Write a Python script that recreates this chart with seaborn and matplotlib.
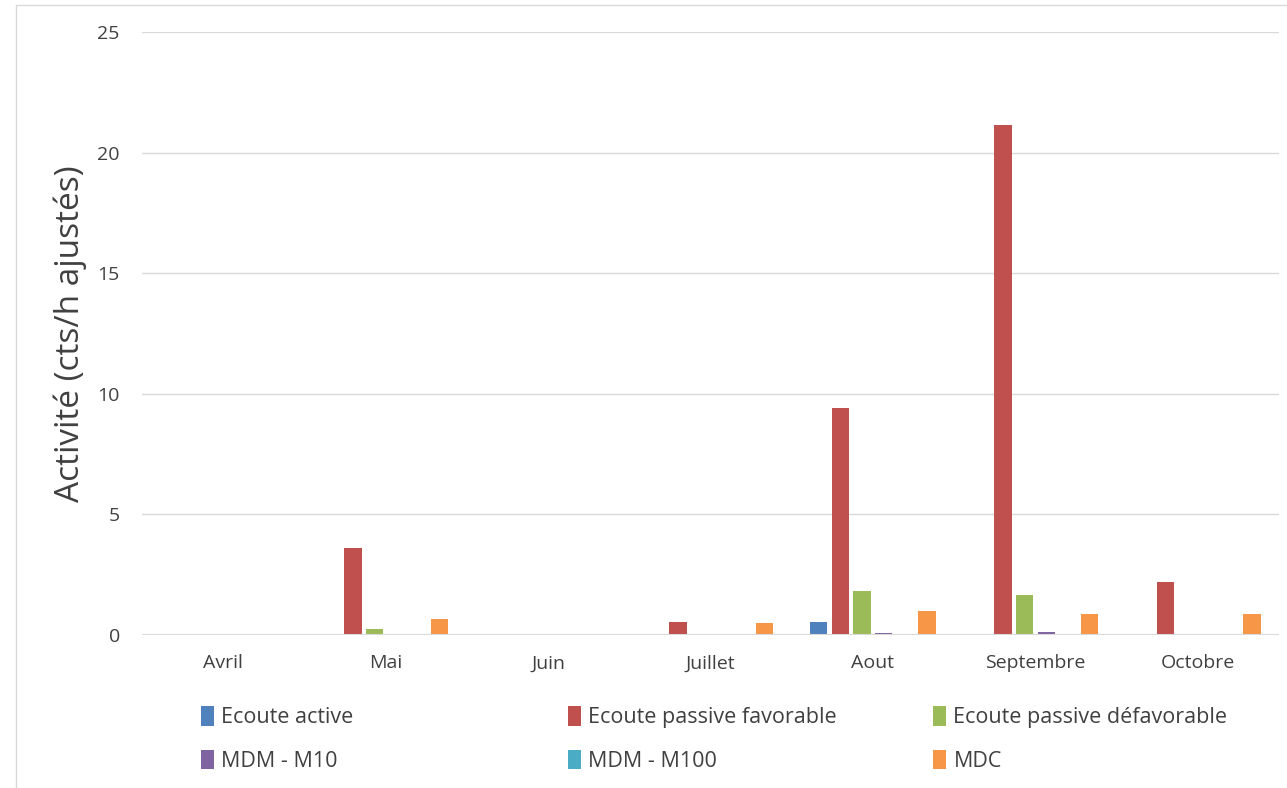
import matplotlib
matplotlib.use("Agg")
import matplotlib.pyplot as plt
from matplotlib.patches import Rectangle, Patch
import seaborn as sns
import pandas as pd

months = ["Avril", "Mai", "Juin", "Juillet", "Aout", "Septembre", "Octobre"]
series = ["Ecoute active", "Ecoute passive favorable", "Ecoute passive défavorable",
          "MDM - M10", "MDM - M100", "MDC"]
ecoute_active = [0, 0, 0, 0, 0.54, 0, 0]
ecoute_passive_fav = [0, 3.6, 0, 0.54, 9.42, 21.14, 2.18]
ecoute_passive_defav = [0, 0.25, 0, 0, 1.82, 1.66, 0]
mdm_m10 = [0, 0, 0, 0.03, 0.07, 0.11, 0.02]
mdm_m100 = [0, 0, 0, 0, 0, 0, 0]
mdc = [0.05, 0.68, 0, 0.5, 1.0, 0.87, 0.87]
colors = ["#4F81BD", "#C0504D", "#9BBB59", "#8064A2", "#4BACC6", "#F79646"]

values = [ecoute_active, ecoute_passive_fav, ecoute_passive_defav, mdm_m10, mdm_m100, mdc]
rows = []
for name, vals in zip(series, values):
    for m, v in zip(months, vals):
        rows.append({"Mois": m, "Série": name, "Activité": v})
df = pd.DataFrame(rows)

sns.set_theme(style="white")
plt.rcParams["font.family"] = ["Open Sans", "DejaVu Sans"]

fig = plt.figure(figsize=(12.87, 7.88), dpi=100)
ax = fig.add_axes([142 / 1287, 1 - 635 / 788, (1279 - 142) / 1287, (635 - 32) / 788])

sns.barplot(data=df, x="Mois", y="Activité", hue="Série", hue_order=series,
            order=months, palette=colors, width=0.8, saturation=1,
            linewidth=0, errorbar=None, legend=False, ax=ax)

# leave a small gap between neighbouring bars of a group
for p in ax.patches:
    w = p.get_width()
    p.set_x(p.get_x() + w * 0.1)
    p.set_width(w * 0.8)

ax.set_ylim(0, 25)
ax.set_xlim(-0.5, len(months) - 0.5)
ax.set_yticks([0, 5, 10, 15, 20, 25])
ax.yaxis.grid(True, color="#D9D9D9", linewidth=1)
ax.set_axisbelow(True)
for s in ["top", "right", "left", "bottom"]:
    ax.spines[s].set_visible(False)
ax.axhline(0, color="#D9D9D9", linewidth=1.5, zorder=1)
ax.tick_params(axis="both", length=0, labelsize=14, labelcolor="#404040")
ax.tick_params(axis="x", pad=14)
ax.tick_params(axis="y", pad=16)
ax.set_xlabel("")
ax.set_ylabel("Activité (cts/h ajustés)", fontsize=24, color="#404040")
ax.yaxis.set_label_coords(-0.048, 0.5)

# legend laid out as three columns of two entries
col_x = [201, 568, 933]
for c in range(3):
    idx = [c, c + 3]
    hs = [Patch(facecolor=colors[i], edgecolor="none") for i in idx]
    fig.legend(hs, [series[i] for i in idx], loc="lower left",
               bbox_to_anchor=(col_x[c] / 1287, 16 / 788),
               ncol=1, frameon=False, fontsize=15.5, labelcolor="#404040",
               handlelength=0.6, handleheight=1.0, handletextpad=0.35,
               labelspacing=1.0, borderaxespad=0, borderpad=0)

# chart area border
fig.patches.append(Rectangle((16 / 1287, -0.01), 1.1, 1 - 5 / 788 + 0.01,
                             transform=fig.transFigure, fill=False,
                             edgecolor="#D9D9D9", linewidth=1))

fig.savefig("out.png", dpi=100)
